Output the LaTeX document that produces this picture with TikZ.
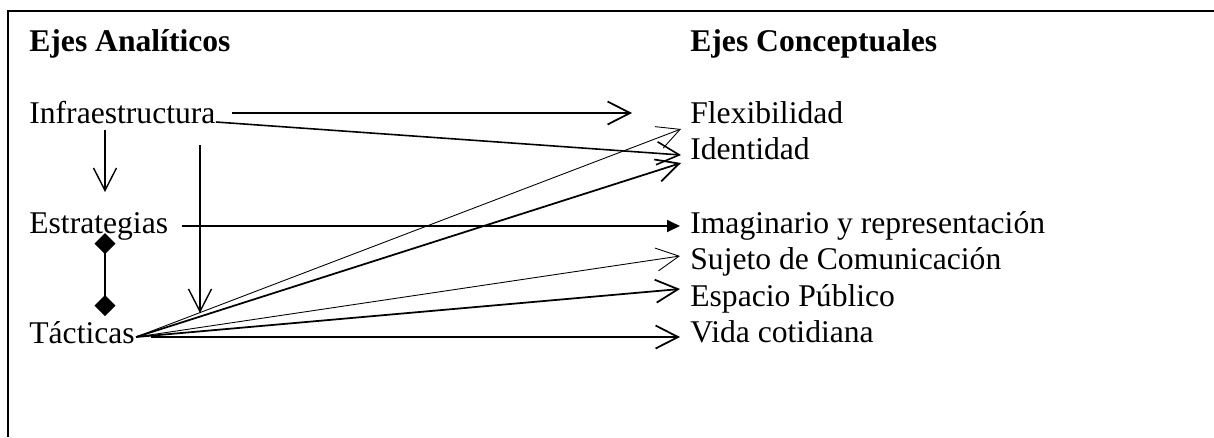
\documentclass[tikz,border=0pt]{standalone}
\usepackage{fontspec}
\setmainfont{Liberation Serif}
\usetikzlibrary{arrows.meta,calc}
\begin{document}
\begin{tikzpicture}[x=0.02cm,y=-0.02cm,style={font=\fontsize{18pt}{21pt}\selectfont},
  eje/.style={anchor=base west,inner sep=0pt},
  abierta/.style={-{Straight Barb[length=0.45cm,width=0.46cm]}},
  rombo/.style={{Diamond[length=0.42cm,width=0.42cm]}-{Diamond[length=0.42cm,width=0.42cm]}},
  fino/.style={line width=0.5pt},
  grueso/.style={line width=1pt}]
\useasboundingbox (0,0) rectangle (1214,437);
\draw[line width=1.1pt] (8,437) -- (8,11) -- (1214,11);
% columna izquierda
\node[eje] (analit) at (29,51) {\textbf{Ejes Analíticos}};
\node[eje] (infra) at (29,123) {Infraestructura};
\node[eje] (estr) at (29,233) {Estrategias};
\node[eje] (tac) at (29,343) {Tácticas};
% columna derecha
\node[eje] (concep) at (690,51) {\textbf{Ejes Conceptuales}};
\node[eje] (flex) at (690,123) {Flexibilidad};
\node[eje] (iden) at (690,159.6) {Identidad};
\node[eje] (imag) at (690,233) {Imaginario y representación};
\node[eje] (suj) at (690,269.4) {Sujeto de Comunicación};
\node[eje] (esp) at (690,306) {Espacio Público};
\node[eje] (vida) at (690,342.6) {Vida cotidiana};
% flechas
\draw[abierta,grueso] ($(infra.base east)+(16,-10)$) -- ($(flex.base west)+(-58,-10)$);
\draw[abierta,line width=0.9pt] ($(infra.base east)+(0,-1)$) -- ($(iden.base west)+(-9,-4.6)$);
\draw[abierta,line width=0.8pt] ($(infra.base west)+(76,7)$) -- ($(estr.base west)+(76,-41)$);
\draw[abierta,line width=0.8pt] ($(infra.base west)+(171,22)$) -- ($(tac.base west)+(171,-30)$);
\draw[-{Triangle[length=0.26cm,width=0.24cm]},grueso] ($(estr.base east)+(14,-7)$) -- ($(imag.base west)+(-10,-7)$);
\draw[rombo,line width=0.8pt] ($(estr.base west)+(76,0)$) -- ($(tac.base west)+(76,-27)$);
\draw[abierta,fino] ($(tac.base east)+(1,-6)$) -- ($(flex.base west)+(-9,6)$);
\draw[abierta,grueso] ($(tac.base east)+(1,-6)$) -- ($(iden.base west)+(-9,3.4)$);
\draw[abierta,fino] ($(tac.base east)+(1,-6)$) -- ($(suj.base west)+(-10,-13.4)$);
\draw[abierta,grueso] ($(tac.base east)+(1,-6)$) -- ($(esp.base west)+(-10,-17)$);
\draw[abierta,grueso] ($(tac.base east)+(16,-6)$) -- ($(vida.base west)+(-10,-5.6)$);
\end{tikzpicture}
\end{document}
